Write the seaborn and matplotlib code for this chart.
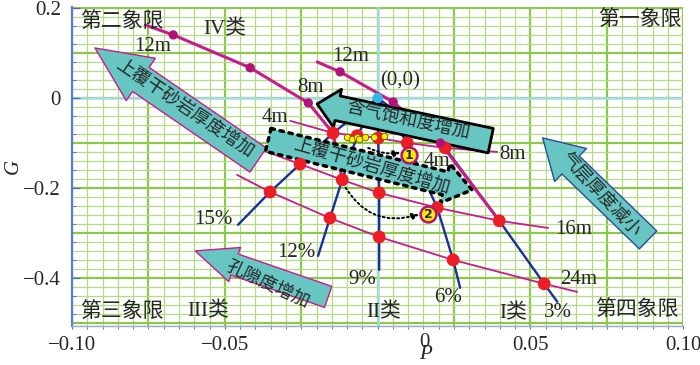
import numpy as np
import pandas as pd
import matplotlib
matplotlib.use("Agg")
import matplotlib.pyplot as plt
import matplotlib.transforms as mtrans
from matplotlib.patches import FancyArrowPatch
import seaborn as sns

# ---------------- data (P = intercept, G = gradient) ----------------

porosity = ["15%", "12%", "9%", "6%", "3%"]
thickness = ["8m", "16m", "24m"]

# red dots: where thickness lines cross porosity lines
P_8m = [-0.0146, -0.0067, 0.0002, 0.0097, 0.0221]
G_8m = [-0.078, -0.084, -0.089, -0.100, -0.111]
P_16m = [-0.0254, -0.0116, 0.0005, 0.0195, 0.0398]
G_16m = [-0.147, -0.182, -0.211, -0.244, -0.273]
P_24m = [-0.0352, -0.0156, 0.0005, 0.0247, 0.0545]
G_24m = [-0.209, -0.267, -0.309, -0.360, -0.413]

# loose ends of the thickness lines
thick_P0 = [-0.0286, -0.0378, -0.0460]
thick_G0 = [-0.051, -0.116, -0.171]
thick_P1 = [0.0391, 0.0558, 0.0653]
thick_G1 = [-0.120, -0.289, -0.431]

# porosity lines start at (0,0) and end here
poro_P1 = [-0.0457, -0.0195, 0.0005, 0.0270, 0.0588]
poro_G1 = [-0.282, -0.351, -0.382, -0.422, -0.453]

# class boundaries
bound_IV_P = [-0.0760, -0.0669, -0.0417, -0.0227, -0.0146, -0.0116]
bound_IV_G = [0.162, 0.140, 0.067, -0.011, -0.078, -0.182]
bound_I_P = [-0.0198, -0.0123, 0.0051, 0.0205, 0.0398]
bound_I_G = [0.080, 0.058, -0.009, -0.100, -0.273]

# purple points on the boundaries
gas_P = [-0.0669, -0.0417, -0.0227, -0.0123, 0.0051, 0.0205]
gas_G = [0.140, 0.067, -0.011, 0.058, -0.009, -0.100]

# yellow points
yel_P = [-0.0100, -0.0083, -0.0067, -0.0061, -0.0041, -0.0011, 0.0021]
yel_G = [-0.087, -0.091, -0.087, -0.091, -0.087, -0.087, -0.084]

# numbered cases
case_P = [0.0103, 0.0165]
case_G = [-0.127, -0.258]
case_lab = ["1", "2"]

# ---------------- style ----------------

MAG = "#c81c8c"
BLUE = "#1c2d9c"
RED = "#ee1c24"
PURP = "#b0147a"
TEAL = "#67c6c2"

sns.set_style("white")
plt.rcParams["font.family"] = ["Liberation Serif", "Noto Sans CJK SC"]
CJK = ["Noto Sans CJK SC", "Liberation Serif"]

fig, ax = plt.subplots(figsize=(7, 3.65), dpi=100)
fig.subplots_adjust(left=0.103, right=0.976, bottom=0.107, top=0.981)

# graph-paper grid
for x in np.arange(-0.1, 0.1001, 0.005):
    major = abs(x / 0.025 - round(x / 0.025)) < 1e-6
    ax.axvline(x, color="#8cc84a" if major else "#b2dc88",
               lw=1.6 if major else 0.9, zorder=0)
for y in np.arange(-0.5, 0.2001, 0.02):
    major = abs(y / 0.1 - round(y / 0.1)) < 1e-6
    ax.axhline(y, color="#8cc84a" if major else "#b2dc88",
               lw=1.6 if major else 0.9, zorder=0)
ax.axhline(0, color="#a6dbe8", lw=1.8, zorder=0.5)
ax.axvline(0, color="#a6dbe8", lw=1.8, zorder=0.5)

# thickness lines
rows = []
for name, P, G, p0, g0, p1, g1 in zip(thickness, [P_8m, P_16m, P_24m],
                                      [G_8m, G_16m, G_24m],
                                      thick_P0, thick_G0, thick_P1, thick_G1):
    for p, g in zip([p0] + P + [p1], [g0] + G + [g1]):
        rows.append((name, p, g))
thick_df = pd.DataFrame(rows, columns=["line", "P", "G"])
sns.lineplot(data=thick_df, x="P", y="G", units="line", estimator=None,
             sort=False, color=MAG, lw=1.3, zorder=2, ax=ax)

# porosity lines
rows = []
for i, name in enumerate(porosity):
    pts = [(0.0, 0.0), (P_8m[i], G_8m[i]), (P_16m[i], G_16m[i]),
           (P_24m[i], G_24m[i]), (poro_P1[i], poro_G1[i])]
    for p, g in pts:
        rows.append((name, p, g))
poro_df = pd.DataFrame(rows, columns=["line", "P", "G"])
sns.lineplot(data=poro_df, x="P", y="G", units="line", estimator=None,
             sort=False, color=BLUE, lw=1.7, zorder=2, ax=ax)

# class boundaries
bound_df = pd.DataFrame({
    "line": ["IV"] * len(bound_IV_P) + ["I"] * len(bound_I_P),
    "P": bound_IV_P + bound_I_P,
    "G": bound_IV_G + bound_I_G,
})
sns.lineplot(data=bound_df, x="P", y="G", units="line", estimator=None,
             sort=False, color=MAG, lw=2.2, zorder=2.2, ax=ax)

# ---------------- big arrows ----------------

def big_arrow(tail, tip, tw, hw, hl, ec, lw, ls="-"):
    ar = FancyArrowPatch(tail, tip,
                         arrowstyle=f"simple,head_length={hl},head_width={hw},tail_width={tw}",
                         mutation_scale=1, fc=TEAL, ec=ec, lw=lw, ls=ls,
                         shrinkA=0, shrinkB=0, zorder=3)
    ax.add_patch(ar)

big_arrow((-0.0391, -0.138), (-0.0925, 0.111), 21, 37, 40, MAG, 1.0)
big_arrow((0.0370, -0.0950), (-0.0198, -0.0133), 18, 28, 15, "black", 2.0)
big_arrow((-0.0358, -0.0933), (0.0309, -0.2044), 17, 29, 20, "black", 2.5, ":")
big_arrow((0.0885, -0.3156), (0.054, -0.0889), 18, 33, 28, "#2b4aa0", 1.0)
big_arrow((-0.0162, -0.4422), (-0.0597, -0.340), 16, 26, 30, MAG, 1.0)

arrow_txt = [
    ("上覆干砂岩厚度增加", -0.0630, -0.022, -34),
    ("含气饱和度增加", 0.0100, -0.048, -12),
    ("上覆干砂岩厚度增加", -0.0018, -0.151, -16),
    ("气层厚度减小", 0.0728, -0.2156, -47),
    ("孔隙度增加", -0.0358, -0.4133, -25),
]
for s, x, y, r in arrow_txt:
    ax.text(x, y, s, rotation=r, rotation_mode="anchor", ha="center",
            va="center", fontsize=13, family=CJK, zorder=6)

# dotted path arrows
ax.annotate("", xy=(0.0074, -0.122), xytext=(-0.0031, -0.111),
            arrowprops=dict(arrowstyle="-|>,head_length=0.4,head_width=0.2",
                            ls=(0, (1, 1.5)), lw=1.4, color="black",
                            connectionstyle="arc3,rad=0.15",
                            shrinkA=0, shrinkB=0), zorder=4)
ax.annotate("", xy=(0.0135, -0.259), xytext=(-0.0113, -0.190),
            arrowprops=dict(arrowstyle="-|>,head_length=0.4,head_width=0.2",
                            ls=(0, (1, 1.5)), lw=1.4, color="black",
                            connectionstyle="arc3,rad=0.4",
                            shrinkA=0, shrinkB=0), zorder=4)

# ---------------- points ----------------

sns.scatterplot(x=P_8m + P_16m + P_24m, y=G_8m + G_16m + G_24m, color=RED,
                s=85, edgecolor="none", zorder=4.5, ax=ax)
sns.scatterplot(x=gas_P, y=gas_G, color=PURP, s=45, edgecolor="none",
                zorder=4.5, ax=ax)
sns.scatterplot(x=yel_P, y=yel_G, color="#ffee00", s=22, edgecolor="#6b5a00",
                linewidth=0.6, zorder=5, ax=ax)
sns.scatterplot(x=[0.0], y=[0.0], color="#35b6e8", s=55, edgecolor="none",
                zorder=4.6, ax=ax)
sns.scatterplot(x=case_P, y=case_G, color="#ffe800", s=130, edgecolor=PURP,
                linewidth=1.8, zorder=5, ax=ax)
for p, g, s in zip(case_P, case_G, case_lab):
    ax.text(p, g, s, ha="center", va="center", fontsize=9, zorder=6,
            family="DejaVu Sans", fontweight="bold")

# ---------------- labels ----------------

labels = [
    ("第二象限", -0.0836, 0.169), ("第一象限", 0.0859, 0.172),
    ("第三象限", -0.0836, -0.4756), ("第四象限", 0.0849, -0.4711),
    ("IV类", -0.0499, 0.151), ("III类", -0.0555, -0.4756),
    ("II类", 0.0021, -0.4778), ("I类", 0.0443, -0.480),
    ("12m", -0.0738, 0.1133), ("8m", -0.0221, 0.0222),
    ("4m", -0.0335, -0.0444), ("12m", -0.0090, 0.0911),
    ("(0,0)", 0.0074, 0.0378), ("4m", 0.0195, -0.1422),
    ("8m", 0.0440, -0.1267), ("16m", 0.0640, -0.2933),
    ("24m", 0.0659, -0.4044), ("15%", -0.0539, -0.2711),
    ("12%", -0.0267, -0.3444), ("9%", -0.0051, -0.4044),
    ("6%", 0.0229, -0.4444), ("3%", 0.0591, -0.4778),
]
for s, x, y in labels:
    ax.text(x, y, s, ha="center", va="center", fontsize=15, zorder=6)

# ---------------- axes ----------------

ax.set_xlim(-0.1, 0.1)
ax.set_ylim(-0.5067, 0.2022)
ax.set_xticks([-0.1, -0.05, 0, 0.05, 0.1])
ax.set_xticklabels(["\u22120.10", "\u22120.05", "0", "0.05", "0.10"])
ax.set_yticks([-0.4, -0.2, 0, 0.2])
ax.set_yticklabels(["\u22120.4", "\u22120.2", "0", "0.2"])
ax.xaxis.set_minor_locator(matplotlib.ticker.MultipleLocator(0.005))
ax.yaxis.set_minor_locator(matplotlib.ticker.MultipleLocator(0.04))
ax.tick_params(axis="x", which="both", direction="out", length=2,
               color="#4a68c8", labelsize=15, pad=5, bottom=True)
ax.tick_params(axis="y", which="major", direction="in", length=6,
               color="#4a68c8", labelsize=15, pad=8, left=True)
ax.tick_params(axis="y", which="minor", direction="in", length=3,
               color="#4a68c8", left=True)

for side in ["top", "right"]:
    ax.spines[side].set_visible(False)
ax.spines["left"].set_color("#5b7bd5")
ax.spines["left"].set_linewidth(1.6)
ax.spines["bottom"].set_color("#9aa6d0")
ax.spines["bottom"].set_linewidth(1.0)

ax.set_xlabel("P", fontsize=15, fontstyle="italic", va="baseline")
ax.set_ylabel("G", fontsize=15, fontstyle="italic")
ax.xaxis.set_label_coords(0.578, -0.1034)
ax.yaxis.set_label_coords(-0.08, 0.5)

# the "0" on the P axis sits to the right in the original
lab0 = ax.get_xticklabels()[2]
lab0.set_transform(lab0.get_transform()
                   + mtrans.ScaledTranslation(0.47, 0.03, fig.dpi_scale_trans))

plt.savefig("out.png", dpi=100)
